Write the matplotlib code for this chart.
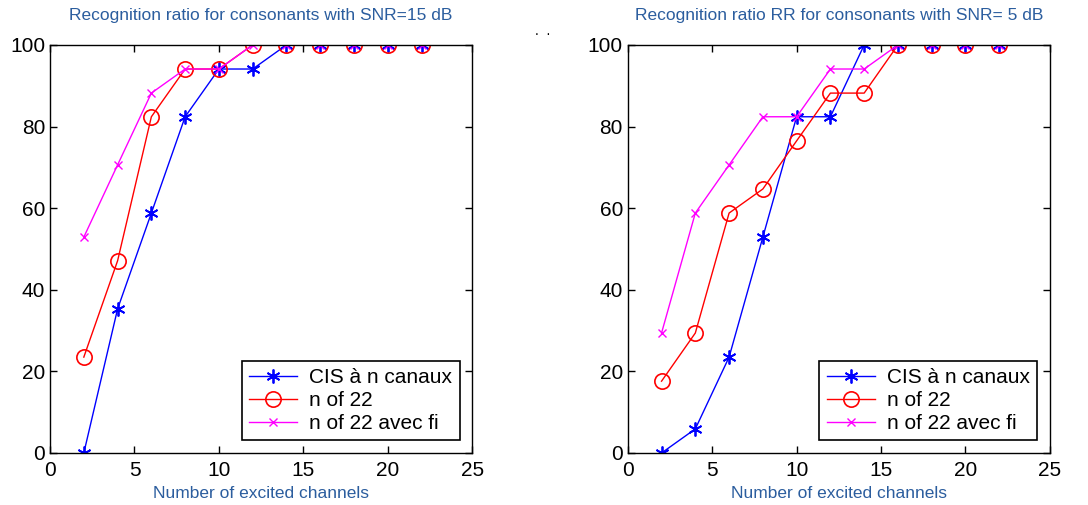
import matplotlib.pyplot as plt

plt.rcParams['font.family'] = ['Liberation Sans', 'DejaVu Sans']

channels = [2, 4, 6, 8, 10, 12, 14, 16, 18, 20, 22]

# SNR = 15 dB
cis_15 = [0, 35.3, 58.8, 82.4, 94.1, 94.1, 100, 100, 100, 100, 100]
nof22_15 = [23.5, 47.1, 82.4, 94.1, 94.1, 100, 100, 100, 100, 100, 100]
nof22fi_15 = [52.9, 70.6, 88.2, 94.1, 94.1, 100, 100, 100, 100, 100, 100]

# SNR = 5 dB
cis_5 = [0, 5.9, 23.5, 52.9, 82.4, 82.4, 100, 100, 100, 100, 100]
nof22_5 = [17.6, 29.4, 58.8, 64.7, 76.5, 88.2, 88.2, 100, 100, 100, 100]
nof22fi_5 = [29.4, 58.8, 70.6, 82.4, 82.4, 94.1, 94.1, 100, 100, 100, 100]

labels = ['CIS à n canaux', 'n of 22', 'n of 22 avec fi']
titles = ['Recognition ratio for consonants with SNR=15 dB',
          'Recognition ratio RR for consonants with SNR= 5 dB']
title_color = '#2b5d9e'
asterisk = (6, 2, 0)  # matlab style '*'

fig = plt.figure(figsize=(10.88, 5.05), dpi=100)
ax1 = fig.add_axes([0.046, 0.103, 0.388, 0.808])
ax2 = fig.add_axes([0.577, 0.103, 0.388, 0.808])

for ax, series, title in [(ax1, (cis_15, nof22_15, nof22fi_15), titles[0]),
                          (ax2, (cis_5, nof22_5, nof22fi_5), titles[1])]:
    ax.plot(channels, series[0], color='blue', marker=asterisk, markersize=10,
            markeredgewidth=1.3, lw=1, label=labels[0])
    ax.plot(channels, series[1], color='red', marker='o', markersize=11,
            markerfacecolor='none', markeredgewidth=1.2, lw=1, label=labels[1])
    ax.plot(channels, series[2], color='magenta', marker='x', markersize=6,
            lw=1, label=labels[2])
    ax.set_xlim(0, 25)
    ax.set_ylim(0, 100)
    ax.set_xticks([0, 5, 10, 15, 20, 25])
    ax.set_yticks([0, 20, 40, 60, 80, 100])
    ax.tick_params(direction='in', top=True, right=True, labelsize=15,
                   length=5, width=1)
    ax.tick_params(axis='x', pad=6)
    ax.set_title(title, color=title_color, fontsize=12.5, pad=18)
    ax.set_xlabel('Number of excited channels', color=title_color,
                  fontsize=12.5, labelpad=4)
    for s in ax.spines.values():
        s.set_linewidth(1)
    leg = ax.legend(loc='lower right', fontsize=15, fancybox=False,
                    framealpha=1, edgecolor='black', borderaxespad=0.6,
                    handlelength=2.3, borderpad=0.35, labelspacing=0.2,
                    handletextpad=0.6)
    leg.get_frame().set_linewidth(1.2)

fig.text(0.492, 0.93, '.  .', fontsize=10, color='black')

fig.savefig('out.png', dpi=100)
